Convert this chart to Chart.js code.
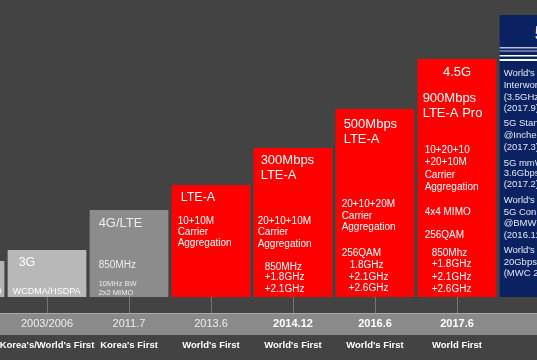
<!DOCTYPE html>
<html>
<head>
<meta charset="utf-8">
<script src="https://cdn.jsdelivr.net/npm/chart.js@4.4.1/dist/chart.umd.min.js"></script>
<style>
  html, body { margin: 0; padding: 0; background: #434343; overflow: hidden; }
  #wrap { position: relative; width: 537px; height: 360px; overflow: hidden; }
  #timeline { position: absolute; left: -76px; top: 0; }
</style>
</head>
<body>
<div id="wrap"><canvas id="timeline" width="656" height="360"></canvas></div>
<script>
// timeline data
const generations = ['2G', '3G', '4G', 'LTE-A', 'LTE-A 3CA', 'LTE-A 256QAM', '4.5G', '5G'];
const launchDates = ['1996', '2003/2006', '2011.7', '2013.6', '2014.12', '2016.6', '2017.6', ''];
const firsts = ["World's First", "Korea's/World's First", "Korea's First", "World's First",
  "World's First", "World's First", 'World First', ''];
const heights = [36, 47, 87, 112, 149, 188, 238, 282];
const boldDates = [false, false, false, false, true, true, true, false];

// text written inside each bar
const notes = [
  ['CDMA', '1x EV-DO'],
  ['3G', 'WCDMA/HSDPA'],
  ['4G/LTE', '850MHz', '10MHz BW', '2x2 MIMO'],
  ['LTE-A', '10+10M', 'Carrier', 'Aggregation'],
  ['300Mbps', 'LTE-A', '20+10+10M', 'Carrier', 'Aggregation', '850MHz', '+1.8GHz', '+2.1GHz'],
  ['500Mbps', 'LTE-A', '20+10+20M', 'Carrier', 'Aggregation', '256QAM', '1.8GHz', '+2.1GHz', '+2.6GHz'],
  ['4.5G', '900Mbps', 'LTE-A Pro', '10+20+10', '+20+10M', 'Carrier', 'Aggregation', '4x4 MIMO',
    '256QAM', '850Mhz', '+1.8GHz', '+2.1GHz', '+2.6GHz'],
  ['5G', "World's First 5G-LTE", 'Interworking', '(3.5GHz/28GHz)', '(2017.9)',
    '5G Standard Call', '@Incheon Airport', '(2017.3)',
    '5G mmWave', '3.6Gbps', '(2017.2)',
    "World's First", '5G Connected Car', '@BMW', '(2016.11)',
    "World's First", '20Gbps', '(MWC 2016)']
];

// styling
const barColors = ['#b4b4b4', '#b8b8b8', '#8c8c8c', '#ff0000', '#ff0000', '#ff0000', '#ff0000', '#0b2262'];
const noteColors = ['#ffffff', '#ffffff', '#ececec', '#ffffff', '#ffffff', '#ffffff', '#ffffff', '#e4e7f4'];
// [dx from bar left, dy from bar top, size, bold, align]
const noteLayout = [
  [[10, 13, 12], [76, 31, 9, 0, 'right']],
  [[11, 13, 12.5], [5, 42, 9]],
  [[9, 13, 13], [9, 55, 10], [9, 74, 7.5], [9, 83, 7.5]],
  [[9, 13, 12.5], [6, 36, 10], [6, 47, 10], [6, 58, 10]],
  [[7, 12, 13], [7, 27, 13], [4, 73, 10], [4, 84, 10], [4, 96, 10], [11, 119, 10], [11, 129, 10], [11, 141, 10]],
  [[8, 15, 13], [8, 30, 13], [6, 95, 10], [6, 107, 10], [6, 118, 10], [6, 144, 10], [14, 156, 10], [13, 168, 10], [13, 179, 10]],
  [[39.4, 13, 13, 0, 'center'], [5, 39, 13], [5, 54, 13], [7, 91, 10], [7, 103, 10], [7, 116, 10], [7, 128, 10],
    [7, 153, 10], [7, 176, 10], [14, 194, 10], [14, 205, 10], [14, 218, 10], [14, 230, 10]],
  [[35, 19, 20, 1], [4, 58, 9.5], [4, 70, 9.5], [4, 82, 9.5], [4, 93, 9.5],
    [4, 108, 9.5], [4, 120, 9.5], [4, 132, 9.5],
    [4, 148, 9.5], [4, 158, 9.5], [4, 169, 9.5],
    [4, 185, 9.5], [4, 197, 9.5], [4, 208, 9.5], [4, 220, 9.5],
    [4, 235, 9.5], [4, 247, 9.5], [4, 258, 9.5]]
];
const FONT = '"Liberation Sans", Arial, sans-serif';

const bandPlugin = {
  id: 'band',
  beforeDraw(chart) {
    const {ctx, width, height} = chart;
    const x = chart.scales.x;
    ctx.save();
    ctx.fillStyle = '#434343';
    ctx.fillRect(0, 0, width, height);
    ctx.fillStyle = '#8a8a8a';
    ctx.fillRect(0, x.top + 16, width, x.bottom - x.top - 16);
    ctx.fillStyle = '#a9a9a9';
    ctx.fillRect(0, x.top + 16, width, 1);
    ctx.restore();
  }
};

const notesPlugin = {
  id: 'notes',
  afterDatasetsDraw(chart) {
    const {ctx} = chart;
    const bars = chart.getDatasetMeta(0).data;
    ctx.save();
    bars.forEach((bar, i) => {
      const left = bar.x - bar.width / 2;
      if (i === 7) {
        // header stripes of the 5G panel
        ctx.fillStyle = '#b9c0dd';
        ctx.fillRect(left, bar.y + 32, bar.width, 1.5);
        ctx.fillRect(left, bar.y + 35.5, bar.width, 1);
        ctx.fillStyle = '#ffffff';
        ctx.fillRect(left, bar.y + 40, bar.width, 1.5);
        ctx.fillRect(left, bar.y + 44, bar.width, 2);
      }
      ctx.fillStyle = noteColors[i];
      ctx.textBaseline = 'middle';
      notes[i].forEach((line, j) => {
        const [dx, dy, size, bold, align] = noteLayout[i][j];
        ctx.font = (bold ? 'bold ' : '') + size + 'px ' + FONT;
        ctx.textAlign = align || 'left';
        ctx.fillText(line, left + dx, bar.y + dy);
      });
    });
    ctx.restore();
  }
};

new Chart(document.getElementById('timeline'), {
  type: 'bar',
  data: {
    labels: launchDates,
    datasets: [{
      label: 'Network generation',
      data: heights,
      backgroundColor: barColors,
      borderWidth: 0,
      barPercentage: 0.96,
      categoryPercentage: 1
    }]
  },
  options: {
    responsive: false,
    animation: false,
    layout: {padding: 0},
    plugins: {
      legend: {display: false},
      tooltip: {enabled: false}
    },
    scales: {
      y: {display: false, min: 0, max: 297},
      x: {
        weight: 0,
        offset: true,
        afterFit: (scale) => { scale.height = 38; },
        border: {display: false},
        grid: {
          offset: false,
          drawOnChartArea: false,
          tickLength: 16,
          color: '#747474'
        },
        ticks: {
          padding: 4,
          maxRotation: 0,
          autoSkip: false,
          color: (c) => boldDates[c.index] ? '#ffffff' : '#eeeeee',
          font: (c) => ({family: FONT, size: 11, weight: boldDates[c.index] ? 'bold' : 'normal'})
        }
      },
      x2: {
        type: 'category',
        position: 'bottom',
        weight: 1,
        labels: firsts,
        offset: true,
        afterFit: (scale) => { scale.height = 25; },
        border: {display: false},
        grid: {display: false, drawTicks: false},
        ticks: {
          padding: 5,
          maxRotation: 0,
          autoSkip: false,
          color: '#ffffff',
          font: {family: FONT, size: 9.5, weight: 'bold'}
        }
      }
    }
  },
  plugins: [bandPlugin, notesPlugin]
});
</script>
</body>
</html>
